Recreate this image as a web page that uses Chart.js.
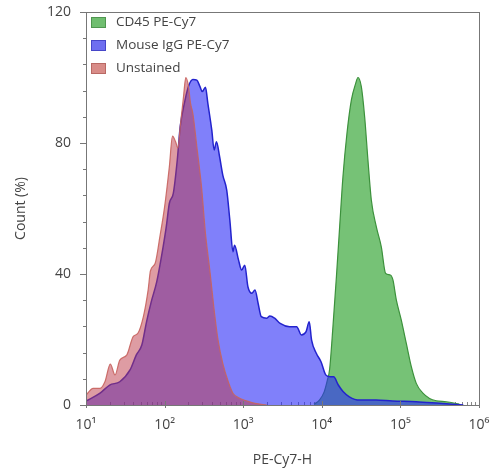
<!DOCTYPE html>
<html>
<head>
<meta charset="utf-8">
<script src="https://cdn.jsdelivr.net/npm/chart.js@4.4.0/dist/chart.umd.min.js"></script>
<style>
  body { margin: 0; background: #fff; }
</style>
</head>
<body>
<canvas id="histChart" width="494" height="468"></canvas>
<script>
const seriesLabels = ['CD45 PE-Cy7', 'Mouse IgG PE-Cy7', 'Unstained'];

// CD45 PE-Cy7
const cd45X = [7943, 9333, 10720, 11750, 12590, 13870, 15350, 16870, 18580, 20890,
  23770, 26980, 28840, 31840, 35080, 38640, 42660, 49430, 57150, 64860,
  74470, 80350, 88720, 102500, 118900, 137700, 159200, 193200, 235000, 285800,
  382800, 562300];
const cd45Y = [0.2, 1.5, 4, 7.5, 11, 24, 39.2, 54.4, 69.7, 82.9,
  93.1, 98.2, 100, 97.2, 88.0, 74.8, 62.6, 54.4, 48.3, 40.2,
  39.7, 38.2, 32.1, 26.0, 18.8, 11.7, 6.6, 3.6, 2.0, 1.3,
  1.0, 0.3];

// Mouse IgG PE-Cy7
const iggX = [10, 15.1, 20, 26.9, 36.3, 43.7, 51.3, 58.9, 67.6, 79.4,
  91.2, 105, 115, 129, 145, 158, 182, 204, 229, 257,
  282, 302, 331, 355, 398, 427, 457, 501, 550, 617,
  676, 741, 776, 871, 955, 1047, 1148, 1288, 1413, 1549,
  1698, 1995, 2188, 2512, 2951, 3890, 4786, 5495, 6310, 6918,
  7413, 8511, 9772, 11220, 12880, 14130, 16220, 18620, 22390, 30200,
  48980, 79430, 158500, 316200, 631000];
const iggY = [1.2, 3.6, 6.1, 7.1, 10.7, 15.3, 18.3, 25.4, 31.5, 37.6,
  45.3, 54.4, 61.6, 64.6, 74.8, 85.0, 93.1, 97.7, 99.4, 99.2,
  97.2, 95.7, 97.0, 92.1, 84.0, 77.9, 80.4, 75.8, 70.2, 65.6,
  56.5, 46.8, 48.8, 44.3, 41.2, 42.7, 36.1, 34.1, 35.1, 31.0,
  27.0, 26.5, 27.2, 26.5, 24.9, 23.9, 23.9, 21.4, 22.4, 25.4,
  19.8, 15.8, 13.2, 9.2, 8.6, 8.6, 6.1, 4.1, 2.5, 1.5,
  1.5, 1.2, 1.0, 0.5, 0];

// Unstained
const unstX = [10, 12.3, 15.1, 17.4, 20.4, 23.4, 26.9, 33.1, 39.8, 45.7,
  53.7, 61.7, 66.1, 75.9, 87.1, 100, 115, 126, 138, 148,
  158, 174, 186, 200, 214, 229, 257, 295, 331, 380,
  427, 479, 550, 646, 741, 912, 1096, 1413, 1995];
const unstY = [3.0, 5.1, 5.1, 7.1, 12.5, 9.2, 13.7, 15.3, 20.9, 21.9,
  27.0, 35.1, 41.0, 43.3, 51.4, 60.5, 72.8, 82.1, 80.4, 78.4,
  85.0, 94.1, 100, 97.7, 92.1, 89.0, 78.9, 66.6, 52.4, 40.2,
  29.0, 19.8, 12.7, 7.1, 3.6, 2.0, 1.3, 0.5, 0];

const xTickValues = [10, 100, 1000, 10000, 100000, 1000000];
const xTickLabels = ['10¹', '10²', '10³', '10⁴', '10⁵', '10⁶'];
const yTickValues = [0, 40, 80, 120];

const toPoints = (xs, ys) => xs.map((x, i) => ({ x: x, y: ys[i] }));

const legendColors = ['rgb(112,190,112)', 'rgb(110,110,240)', 'rgb(216,140,136)'];
const legendBorders = ['rgb(80,150,80)', 'rgb(70,70,200)', 'rgb(185,105,100)'];

Chart.defaults.font.family = "'Open Sans', 'DejaVu Sans', sans-serif";
Chart.defaults.color = '#444';

const framePlugin = {
  id: 'frame',
  beforeDatasetsDraw(chart) {
    // small log ticks, hidden under the fills like in the original
    const { ctx, chartArea: a, scales: { x } } = chart;
    ctx.save();
    ctx.strokeStyle = '#888';
    ctx.lineWidth = 1;
    for (let d = 10; d < 1e6; d *= 10) {
      for (let m = 2; m <= 9; m++) {
        const px = Math.round(x.getPixelForValue(d * m)) + 0.5;
        ctx.beginPath();
        ctx.moveTo(px, a.bottom);
        ctx.lineTo(px, a.bottom - 3);
        ctx.stroke();
      }
    }
    ctx.restore();
  },
  afterDatasetsDraw(chart) {
    const { ctx, chartArea: a, scales: { x, y } } = chart;
    ctx.save();
    ctx.strokeStyle = '#777';
    ctx.lineWidth = 1;
    ctx.strokeRect(a.left + 0.5, a.top + 0.5, a.right - a.left, a.bottom - a.top);
    x.ticks.forEach(t => {
      const px = Math.round(x.getPixelForValue(t.value)) + 0.5;
      ctx.beginPath();
      ctx.moveTo(px, a.bottom - 4);
      ctx.lineTo(px, a.bottom + 3);
      ctx.stroke();
    });
    y.ticks.forEach(t => {
      const py = Math.round(y.getPixelForValue(t.value)) + 0.5;
      const len = yTickValues.includes(t.value) ? 6 : 3;
      ctx.beginPath();
      ctx.moveTo(a.left - len, py);
      ctx.lineTo(a.left + 1, py);
      ctx.stroke();
    });
    ctx.restore();
  },
  afterDraw(chart) {
    const { ctx, chartArea: a } = chart;
    ctx.save();
    ctx.font = "13.5px 'Open Sans', 'DejaVu Sans', sans-serif";
    ctx.textBaseline = 'middle';
    chart.data.datasets.forEach((ds, i) => {
      const top = a.top + 5 + i * 23;
      ctx.fillStyle = legendColors[i];
      ctx.fillRect(a.left + 5, top, 15, 11);
      ctx.strokeStyle = legendBorders[i];
      ctx.strokeRect(a.left + 5.5, top + 0.5, 14, 10);
      ctx.fillStyle = '#444';
      ctx.fillText(ds.label, a.left + 30, top + 5.5);
    });
    ctx.restore();
  }
};

const ctx = document.getElementById('histChart').getContext('2d');

const chart = new Chart(ctx, {
  type: 'line',
  data: {
    datasets: [
      {
        label: seriesLabels[0],
        data: toPoints(cd45X, cd45Y),
        backgroundColor: 'rgb(118,194,118)',
        borderColor: 'rgb(60,145,60)',
        borderWidth: 1.2,
        fill: 'origin',
        order: 3
      },
      {
        label: seriesLabels[1],
        data: toPoints(iggX, iggY),
        backgroundColor: 'rgba(43,43,247,0.6)',
        borderColor: 'rgb(35,35,205)',
        borderWidth: 1.5,
        fill: 'origin',
        order: 2
      },
      {
        label: seriesLabels[2],
        data: toPoints(unstX, unstY),
        backgroundColor: 'rgba(190,58,72,0.5)',
        borderColor: 'rgba(200,100,95,0.9)',
        borderWidth: 1.2,
        fill: 'origin',
        order: 1
      }
    ]
  },
  options: {
    responsive: false,
    animation: false,
    elements: { point: { radius: 0 }, line: { cubicInterpolationMode: 'monotone' } },
    layout: { padding: { top: 12, right: 15, left: 0, bottom: 0 } },
    plugins: { legend: { display: false }, tooltip: { enabled: false } },
    scales: {
      x: {
        type: 'logarithmic',
        min: 10,
        max: 1000000,
        // tick marks are drawn by the frame plugin; tickLength only spaces the labels
        grid: { display: false, drawTicks: true, tickLength: 9 },
        border: { display: false },
        afterBuildTicks: scale => { scale.ticks = xTickValues.map(v => ({ value: v })); },
        afterFit: scale => { scale.height = 63; },
        ticks: {
          autoSkip: false,
          maxRotation: 0,
          padding: 3,
          font: { size: 14 },
          callback: v => xTickLabels[xTickValues.indexOf(v)] || ''
        },
        title: { display: true, text: 'PE-Cy7-H', font: { size: 14 }, padding: { top: 0, bottom: 0 } }
      },
      y: {
        min: 0,
        max: 120,
        grid: { display: false, drawTicks: true, tickLength: 12 },
        border: { display: false },
        afterBuildTicks: scale => {
          const t = [];
          for (let v = 0; v <= 120; v += 8) t.push({ value: v });
          scale.ticks = t;
        },
        afterFit: scale => { scale.width = 86; },
        ticks: {
          autoSkip: false,
          padding: 3,
          font: { size: 14 },
          callback: v => (yTickValues.includes(v) ? String(v) : '')
        },
        title: { display: true, text: 'Count (%)', font: { size: 14 }, padding: { top: 13, bottom: 0 } }
      }
    }
  },
  plugins: [framePlugin]
});
</script>
</body>
</html>
